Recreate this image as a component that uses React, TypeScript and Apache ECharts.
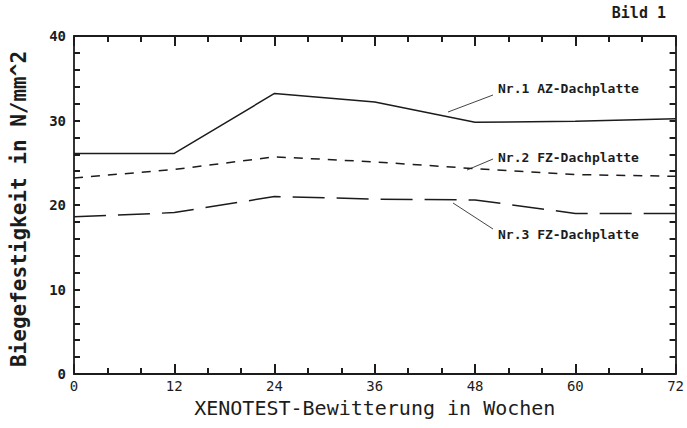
import React, { useEffect, useRef } from "react";
import * as echarts from "echarts";

const weeks = [0, 12, 24, 36, 48, 60, 72];
const nr1 = [26.1, 26.1, 33.2, 32.2, 29.8, 29.9, 30.2];
const nr2 = [23.2, 24.2, 25.7, 25.1, 24.3, 23.6, 23.4];
const nr3 = [18.6, 19.1, 21.0, 20.7, 20.6, 19.0, 19.0];
const seriesNames = ["Nr.1 AZ-Dachplatte", "Nr.2 FZ-Dachplatte", "Nr.3 FZ-Dachplatte"];
const xTitle = "XENOTEST-Bewitterung in Wochen";
const yTitle = "Biegefestigkeit in N/mm^2";
const figTitle = "Bild 1";

const FONT = "DejaVu Sans Mono";
const INK = "#1c1c1c";

export default function App() {
  const ref = useRef<HTMLDivElement>(null);
  useEffect(() => {
    const chart = echarts.init(ref.current!, null, { renderer: "svg" });
    const xBase = {
      type: "value",
      min: 0,
      max: 72,
      interval: 12,
      axisLine: { show: true, onZero: false, lineStyle: { color: INK, width: 1.8 } },
      axisTick: { show: true, inside: true, length: 10, lineStyle: { color: INK, width: 2 } },
      minorTick: { show: true, splitNumber: 3, length: 6, lineStyle: { color: INK, width: 2 } },
      splitLine: { show: false },
      minorSplitLine: { show: false },
    };
    const yBase = {
      type: "value",
      min: 0,
      max: 40,
      interval: 10,
      axisLine: { show: true, onZero: false, lineStyle: { color: INK, width: 1.8 } },
      axisTick: { show: true, inside: true, length: 6, lineStyle: { color: INK, width: 2 } },
      minorTick: { show: true, splitNumber: 5, length: 6, lineStyle: { color: INK, width: 2 } },
      splitLine: { show: false },
      minorSplitLine: { show: false },
    };
    const mk = (vals: number[]) => weeks.map((w, i) => [w, vals[i]]);
    const annText = (text: string, x: number, y: number) => ({
      type: "text",
      x,
      y,
      style: {
        text,
        align: "left",
        verticalAlign: "middle",
        fontFamily: FONT,
        fontWeight: "bold",
        fontSize: 13,
        fill: INK,
      },
    });
    const leader = (x1: number, y1: number, x2: number, y2: number) => ({
      type: "line",
      shape: { x1, y1, x2, y2 },
      style: { stroke: "#444", lineWidth: 1 },
    });
    chart.setOption({
      animation: false,
      backgroundColor: "#fff",
      grid: { left: 74, right: 11, top: 36, bottom: 54, containLabel: false },
      xAxis: [
        {
          ...xBase,
          position: "bottom",
          name: xTitle,
          nameLocation: "middle",
          nameGap: 24,
          nameTextStyle: { fontFamily: FONT, fontSize: 20, color: INK },
          axisLabel: {
            show: true,
            margin: 5,
            fontFamily: FONT,
            fontSize: 14,
            color: INK,
            formatter: (v: number) => String(v),
          },
        },
        { ...xBase, position: "top", axisLabel: { show: false } },
      ],
      yAxis: [
        {
          ...yBase,
          position: "left",
          axisLabel: {
            show: true,
            margin: 8,
            fontFamily: FONT,
            fontSize: 14,
            fontWeight: "bold",
            color: INK,
            formatter: (v: number) => String(v),
          },
        },
        { ...yBase, position: "right", axisLabel: { show: false } },
      ],
      series: [
        {
          name: seriesNames[0],
          type: "line",
          data: mk(nr1),
          showSymbol: false,
          lineStyle: { color: INK, width: 1.5, type: "solid" },
        },
        {
          name: seriesNames[1],
          type: "line",
          data: mk(nr2),
          showSymbol: false,
          lineStyle: { color: INK, width: 1.5, type: [9, 8] },
        },
        {
          name: seriesNames[2],
          type: "line",
          data: mk(nr3),
          showSymbol: false,
          lineStyle: { color: INK, width: 1.5, type: [32, 12] },
        },
      ],
      graphic: [
        {
          type: "text",
          x: 666,
          y: 13,
          style: {
            text: figTitle,
            align: "right",
            verticalAlign: "middle",
            fontFamily: FONT,
            fontWeight: "bold",
            fontSize: 15,
            fill: INK,
          },
        },
        {
          type: "text",
          x: 19,
          y: 209,
          rotation: Math.PI / 2,
          style: {
            text: yTitle,
            align: "center",
            verticalAlign: "middle",
            fontFamily: FONT,
            fontWeight: "bold",
            fontSize: 21,
            fill: INK,
          },
        },
        annText(seriesNames[0], 498, 88),
        annText(seriesNames[1], 498, 157),
        annText(seriesNames[2], 498, 234),
        leader(448, 112, 493, 95),
        leader(467, 170, 493, 159),
        leader(453, 203, 493, 229),
      ],
    });
    return () => chart.dispose();
  }, []);
  return (
    <div
      ref={ref}
      style={{ position: "fixed", left: 0, top: 0, width: 687, height: 428, background: "#fff" }}
    />
  );
}
